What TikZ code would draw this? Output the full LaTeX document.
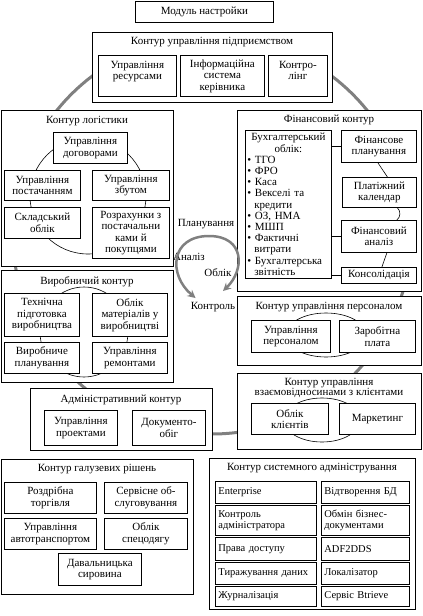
\documentclass[tikz,border=0pt]{standalone}
\usepackage{fontspec}
\setmainfont{Liberation Serif}
\usepackage{tikz}
\usetikzlibrary{arrows.meta}
\definecolor{loopgray}{HTML}{808080}
\newcommand{\boxfont}{\fontsize{11}{11.5}\selectfont}

\begin{document}
\begin{tikzpicture}[x=1pt, y=-1pt,
    box/.style={draw, fill=white, anchor=north west, align=center, inner sep=1pt,
                line width=0.8pt, font=\boxfont},
    sysbox/.style={box, align=left, inner xsep=3pt, font=\fontsize{10.5}{11}\selectfont},
    sz/.style 2 args={minimum width=#1pt, minimum height=#2pt},
    ttl/.style={font=\boxfont, inner sep=1pt, align=center},
    ring/.style={line width=0.6pt},
    flow/.style={draw=loopgray, line width=2.5pt, -{Stealth[length=8pt, width=8pt]}},
    big/.style={draw=loopgray, line width=3pt}
]
\useasboundingbox (0,0) rectangle (423,616);

% --- big loop behind all contours ---
\draw[big] (212,235) circle [radius=199];

% --- setup module ---
\node[box, sz={138}{21}] (setup) at (135,1) {Модуль настройки};

% --- enterprise management ---
\node[box, sz={240}{70}] (mgmt) at (92,32) {};
\node[ttl] (mgmtT) at (212,42) {Контур управління підприємством};
\node[box, sz={78}{41}] (res) at (98,55) {Управління\\ресурсами\\~};
\node[box, sz={84}{41}] (info) at (180,55) {Інформаційна\\система\\керівника};
\node[box, sz={59}{41}] (ctrlg) at (268,55) {Контро-\\лінг\\~};

% --- logistics ---
\node[box, sz={172}{156}] (logist) at (1,110) {};
\node[ttl] (logistT) at (87,121) {Контур логістики};
\draw[ring] (88,196) circle [radius=58];
\node[box, sz={74}{31}] (contr) at (53,132) {Управління\\договорами};
\node[box, sz={76}{30}] (supply) at (4,170) {Управління\\постачанням};
\node[box, sz={76}{31}] (stock) at (4,207) {Складський\\облік};
\node[box, sz={77}{30}] (sales) at (92,170) {Управління\\збутом};
\node[box, sz={77}{51}] (settle) at (92,207) {Розрахунки з\\постачальни\\ками й\\покупцями};

% --- finance ---
\node[box, sz={184}{181}] (fin) at (237,110) {};
\node[ttl] (finT) at (329,120) {Фінансовий контур};
\node[box, sz={86}{148}, text width=82pt, align=left, inner sep=2pt,
      font=\fontsize{11}{11.2}\selectfont] (acc) at (245,130)
  {\centering Бухгалтерський\\облік:\par\raggedright
   • ТГО\\• ФРО\\• Каса\\• Векселі та\\\hspace*{7pt}кредити\\• ОЗ, НМА\\• МШП\\
   • Фактичні\\\hspace*{7pt}витрати\\• Бухгалтерська\\\hspace*{7pt}звітність};
\node[box, sz={75}{32}] (finplan) at (341,130) {Фінансове\\планування};
\node[box, sz={74}{30}] (paycal) at (342,177) {Платіжний\\календар};
\node[box, sz={75}{32}] (finan) at (341,220) {Фінансовий\\аналіз};
\node[box, sz={75}{16}] (consol) at (341,267) {Консолідація};
\draw[ring] (acc.east |- finplan.west) -- (finplan.west);
\draw[ring] (acc.east |- finan.west) -- (finan.west);
\draw[ring] (acc.east |- consol.west) -- (consol.west);
\draw[ring] ([xshift=-1pt]finplan.south) -- ([xshift=8pt]paycal.north);
\draw[ring] ([xshift=18pt]paycal.south) to[bend left=50] ([xshift=18pt]finan.north);
\draw[ring] ([xshift=8pt]finan.south) -- ([xshift=3pt]consol.north);

% --- production ---
\node[box, sz={172}{112}] (prod) at (1,270) {};
\node[ttl] (prodT) at (87,282) {Виробничий контур};
\draw[ring] (84,332) ellipse [x radius=44, y radius=45];
\node[box, sz={75}{43}] (techprep) at (4,293) {Технічна\\підготовка\\виробництва};
\node[box, sz={75}{43}] (matacc) at (92,293) {Облік\\матеріалів у\\виробництві};
\node[box, sz={75}{31}] (prodplan) at (4,342) {Виробниче\\планування};
\node[box, sz={75}{31}] (repair) at (92,342) {Управління\\ремонтами};

% --- personnel ---
\node[box, sz={184}{69}] (pers) at (237,296) {};
\node[ttl] (persT) at (329,307) {Контур управління персоналом};
\draw[ring] (326,335) ellipse [x radius=40, y radius=22];
\node[box, sz={79}{32}] (staff) at (251,320) {Управління\\персоналом};
\node[box, sz={76}{32}] (salary) at (339,320) {Заробітна\\плата};

% --- customer relations ---
\node[box, sz={184}{76}] (crm) at (237,373) {};
\node[ttl, font=\fontsize{11}{10}\selectfont] (crmT) at (329,388)
  {Контур управління\\взаємовідносинами з клієнтами};
\draw[ring] (322,420) ellipse [x radius=38, y radius=22];
\node[box, sz={77}{31}] (clients) at (251,403) {Облік\\клієнтів};
\node[box, sz={76}{31}] (market) at (339,403) {Маркетинг};

% --- administrative ---
\node[box, sz={182}{62}] (admin) at (30,388) {};
\node[ttl] (adminT) at (121,400) {Адміністративний контур};
\node[box, sz={73}{35}] (proj) at (44,410) {Управління\\проектами};
\node[box, sz={73}{35}] (docs) at (132,410) {Документо-\\обіг};

% --- control loop ---
\node[ttl] (plan) at (206,224) {Планування};
\node[ttl] (anal) at (189,257) {Аналіз};
\node[ttl] (acct) at (218,273) {Облік};
\node[ttl] (ctrl) at (213,307) {Контроль};
\coordinate (top) at (209,236);
\draw[flow] (top) .. controls (170,236) and (168,275) .. ([xshift=6pt, yshift=3pt]ctrl.north west);
\draw[flow] (top) .. controls (245,236) and (245,270) .. ([xshift=10pt, yshift=10pt]ctrl.north);

% --- branch solutions ---
\node[box, sz={192}{135}] (branch) at (1,459) {};
\node[ttl] (branchT) at (97,469) {Контур галузевих рішень};
\node[box, sz={92}{31}] (retail) at (4,482) {Роздрібна\\торгівля};
\node[box, sz={83}{31}] (service) at (104,482) {Сервісне об-\\слуговування};
\node[box, sz={92}{31}] (transp) at (4,518) {Управління\\автотранспортом};
\node[box, sz={83}{31}] (wear) at (104,518) {Облік\\спецодягу};
\node[box, sz={83}{32}] (toll) at (58,553) {Давальницька\\сировина};

% --- system administration ---
\node[box, sz={206}{151}] (sysadm) at (209,458) {};
\node[ttl] (sysadmT) at (312,468) {Контур системного адміністрування};
\node[sysbox, text width=95pt, minimum height=22pt] (ent) at (215,481) {Enterprise};
\node[sysbox, text width=95pt, minimum height=30pt] (admctl) at (215,505) {Контроль\\адміністратора};
\node[sysbox, text width=95pt, minimum height=23pt] (rights) at (215,537) {Права доступу};
\node[sysbox, text width=95pt, minimum height=22pt] (repl) at (215,562) {Тиражування даних};
\node[sysbox, text width=95pt, minimum height=20pt] (journ) at (215,586) {Журналізація};
\node[sysbox, text width=82pt, minimum height=22pt] (restore) at (321,481) {Відтворення БД};
\node[sysbox, text width=82pt, minimum height=30pt] (exch) at (321,505) {Обмін бізнес-\\документами};
\node[sysbox, text width=82pt, minimum height=23pt] (adf) at (321,537) {ADF2DDS};
\node[sysbox, text width=82pt, minimum height=22pt] (local) at (321,562) {Локалізатор};
\node[sysbox, text width=82pt, minimum height=20pt] (btr) at (321,586) {Сервіс Btrieve};

\end{tikzpicture}
\end{document}
